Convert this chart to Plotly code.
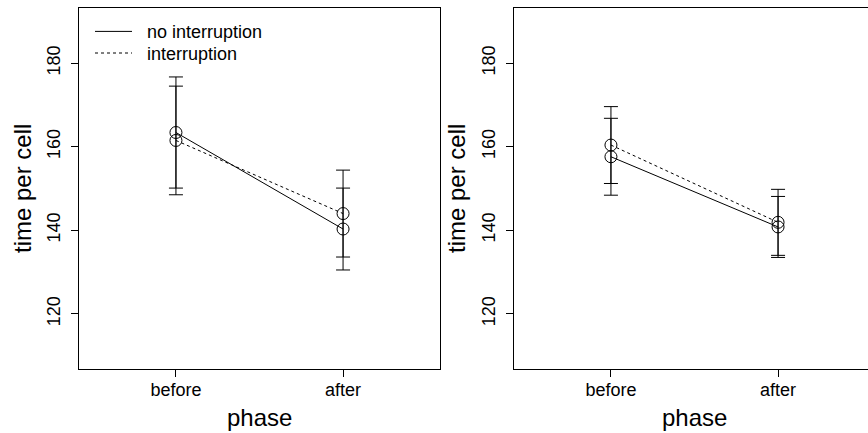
import plotly.graph_objects as go

W, H = 868, 433

# data
phases = ["before", "after"]
phase_pos = [1, 2]

left_no_int = [163.4, 140.3]
left_no_int_err = [13.3, 9.8]
left_int = [161.5, 144.0]
left_int_err = [13.0, 10.4]

right_no_int = [157.6, 140.8]
right_no_int_err = [9.2, 7.3]
right_int = [160.4, 141.9]
right_int_err = [9.2, 7.9]

y_ticks = [120, 140, 160, 180]

font_family = "Liberation Sans, Arial, sans-serif"
DASH = "3px,3px"

fig = go.Figure()


def add_series(y, err, dash, xref, yref):
    fig.add_trace(go.Scatter(
        x=phase_pos,
        y=y,
        mode="lines+markers",
        line=dict(color="black", width=1, dash=dash),
        marker=dict(symbol="circle-open", size=12, color="black",
                    line=dict(color="black", width=1)),
        error_y=dict(type="data", array=err, visible=True,
                     color="black", thickness=1, width=7),
        xaxis=xref,
        yaxis=yref,
        showlegend=False,
    ))


add_series(left_no_int, left_no_int_err, "solid", "x", "y")
add_series(left_int, left_int_err, DASH, "x", "y")
add_series(right_no_int, right_no_int_err, "solid", "x2", "y2")
add_series(right_int, right_int_err, DASH, "x2", "y2")

# legend-only entries, one legend per row so the rows sit where R put them
for name, dash, leg in [("no interruption", "solid", "legend"),
                        ("interruption", DASH, "legend2")]:
    fig.add_trace(go.Scatter(
        x=[None], y=[None], mode="lines", name="\u00a0\u00a0" + name,
        line=dict(color="black", width=1, dash=dash),
        xaxis="x", yaxis="y", legend=leg,
    ))

y_dom = [1 - 369 / H, 1 - 8 / H]

axis_common = dict(
    showgrid=False, zeroline=False, showline=True, linecolor="black",
    linewidth=1, ticks="outside", ticklen=7, tickcolor="black",
    tickfont=dict(size=18, color="black", family=font_family),
)

legend_common = dict(
    xanchor="left", yanchor="middle", bgcolor="rgba(0,0,0,0)",
    borderwidth=0, itemwidth=37,
    font=dict(size=18, color="black", family=font_family),
)

fig.update_layout(
    width=W, height=H,
    margin=dict(l=0, r=0, t=0, b=0),
    plot_bgcolor="white",
    paper_bgcolor="white",
    font=dict(family=font_family, color="black"),
    xaxis=dict(domain=[79 / W, 440 / W], range=[0.42, 2.58],
               tickvals=phase_pos, ticktext=phases, mirror=True,
               anchor="y", ticklabelstandoff=-3, **axis_common),
    yaxis=dict(domain=y_dom, range=[106.8, 193.2], tickvals=y_ticks,
               tickangle=-90, mirror=True, anchor="x",
               ticklabelstandoff=4, **axis_common),
    xaxis2=dict(domain=[514 / W, 1], range=[0.42, 0.42 + (W - 514) / (361 / 2.16)],
                tickvals=phase_pos, ticktext=phases, mirror=True,
                anchor="y2", ticklabelstandoff=-3, **axis_common),
    yaxis2=dict(domain=y_dom, range=[106.8, 193.2], tickvals=y_ticks,
                tickangle=-90, mirror=False, anchor="x2",
                ticklabelstandoff=4, **axis_common),
    legend=dict(x=90 / W, y=1 - 31.7 / H, **legend_common),
    legend2=dict(x=90 / W, y=1 - 53.3 / H, **legend_common),
)

# axis titles
for xc in [259 / W, 694 / W]:
    fig.add_annotation(text="phase", x=xc, y=1 - 417 / H, xref="paper", yref="paper",
                       showarrow=False, xanchor="center", yanchor="middle",
                       font=dict(size=24, color="black", family=font_family))
for xc in [23 / W, 457 / W]:
    fig.add_annotation(text="time per cell", x=xc, y=1 - 189 / H, xref="paper", yref="paper",
                       showarrow=False, xanchor="center", yanchor="middle", textangle=-90,
                       font=dict(size=24, color="black", family=font_family))

# drop the browser's default body margin so the figure starts at the page corner
fig.write_html("out.html", config={"displayModeBar": False},
               post_script="document.body.style.margin = '0px';")
